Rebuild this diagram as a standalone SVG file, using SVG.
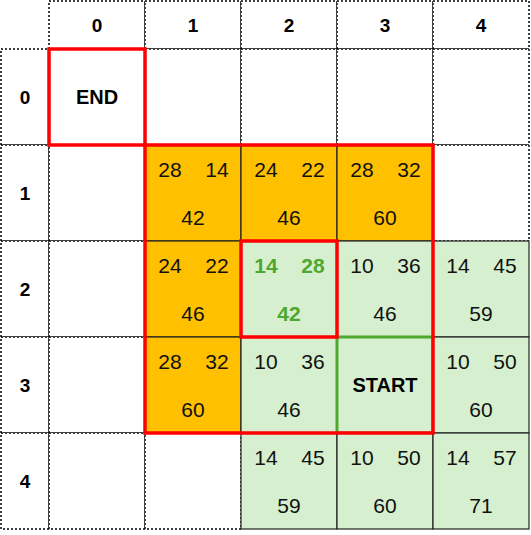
<svg xmlns="http://www.w3.org/2000/svg" width="531" height="535" viewBox="0 0 531 535">
<style>
.w{fill:#fff;stroke:#000;stroke-width:1.5;stroke-dasharray:2 2}
.o{fill:#FFC000;stroke:#222;stroke-width:1.2}
.g{fill:#D6F0CF;stroke:#222;stroke-width:1.2}
.hd{font-family:"Liberation Sans",Arial,sans-serif;font-weight:bold;font-size:19px;text-anchor:middle;fill:#000}
.n{font-family:"Liberation Sans",Arial,sans-serif;font-size:21px;text-anchor:middle;fill:#111}
.gn{font-family:"Liberation Sans",Arial,sans-serif;font-size:21px;font-weight:bold;text-anchor:middle;fill:#4EA72E}
.lb{font-family:"Liberation Sans",Arial,sans-serif;font-weight:bold;font-size:20px;text-anchor:middle;fill:#000}
.red{fill:none;stroke:#FF0000;stroke-width:3.5}
</style>
<rect width="531" height="535" fill="#fff"/>
<g id="headers">
<rect class="w" x="49" y="1" width="96" height="48"/>
<rect class="w" x="145" y="1" width="96" height="48"/>
<rect class="w" x="241" y="1" width="96" height="48"/>
<rect class="w" x="337" y="1" width="96" height="48"/>
<rect class="w" x="433" y="1" width="96" height="48"/>
<rect class="w" x="1" y="49" width="48" height="96"/>
<rect class="w" x="1" y="145" width="48" height="96"/>
<rect class="w" x="1" y="241" width="48" height="96"/>
<rect class="w" x="1" y="337" width="48" height="96"/>
<rect class="w" x="1" y="433" width="48" height="96"/>
<text class="hd" x="97" y="32">0</text>
<text class="hd" x="193" y="32">1</text>
<text class="hd" x="289" y="32">2</text>
<text class="hd" x="385" y="32">3</text>
<text class="hd" x="481" y="32">4</text>
<text class="hd" x="25" y="104">0</text>
<text class="hd" x="25" y="200">1</text>
<text class="hd" x="25" y="296">2</text>
<text class="hd" x="25" y="392">3</text>
<text class="hd" x="25" y="488">4</text>
</g>
<g id="white-cells">
<rect class="w" x="145" y="49" width="96" height="96"/>
<rect class="w" x="241" y="49" width="96" height="96"/>
<rect class="w" x="337" y="49" width="96" height="96"/>
<rect class="w" x="433" y="49" width="96" height="96"/>
<rect class="w" x="49" y="145" width="96" height="96"/>
<rect class="w" x="433" y="145" width="96" height="96"/>
<rect class="w" x="49" y="241" width="96" height="96"/>
<rect class="w" x="49" y="337" width="96" height="96"/>
<rect class="w" x="49" y="433" width="96" height="96"/>
<rect class="w" x="145" y="433" width="96" height="96"/>
</g>
<g id="end"><rect class="w" x="49" y="49" width="96" height="96"/><text class="lb" x="97" y="104" style="font-size:20px">END</text></g>
<g id="c11"><rect class="o" x="145" y="145" width="96" height="96"/><text class="n" x="170" y="177">28</text><text class="n" x="217" y="177">14</text><text class="n" x="193" y="225">42</text></g>
<g id="c12"><rect class="o" x="241" y="145" width="96" height="96"/><text class="n" x="266" y="177">24</text><text class="n" x="313" y="177">22</text><text class="n" x="289" y="225">46</text></g>
<g id="c13"><rect class="o" x="337" y="145" width="96" height="96"/><text class="n" x="362" y="177">28</text><text class="n" x="409" y="177">32</text><text class="n" x="385" y="225">60</text></g>
<g id="c21"><rect class="o" x="145" y="241" width="96" height="96"/><text class="n" x="170" y="273">24</text><text class="n" x="217" y="273">22</text><text class="n" x="193" y="321">46</text></g>
<g id="c31"><rect class="o" x="145" y="337" width="96" height="96"/><text class="n" x="170" y="369">28</text><text class="n" x="217" y="369">32</text><text class="n" x="193" y="417">60</text></g>
<g id="c22"><rect class="g" x="241" y="241" width="96" height="96"/><text class="gn" x="266" y="273">14</text><text class="gn" x="313" y="273">28</text><text class="gn" x="289" y="321">42</text></g>
<g id="c23"><rect class="g" x="337" y="241" width="96" height="96"/><text class="n" x="362" y="273">10</text><text class="n" x="409" y="273">36</text><text class="n" x="385" y="321">46</text></g>
<g id="c24"><rect class="g" x="433" y="241" width="96" height="96"/><text class="n" x="458" y="273">14</text><text class="n" x="505" y="273">45</text><text class="n" x="481" y="321">59</text></g>
<g id="c32"><rect class="g" x="241" y="337" width="96" height="96"/><text class="n" x="266" y="369">10</text><text class="n" x="313" y="369">36</text><text class="n" x="289" y="417">46</text></g>
<g id="start"><rect class="g" x="337" y="337" width="96" height="96" style="stroke:#4EA72E;stroke-width:3"/><text class="lb" x="385" y="392">START</text></g>
<g id="c34"><rect class="g" x="433" y="337" width="96" height="96"/><text class="n" x="458" y="369">10</text><text class="n" x="505" y="369">50</text><text class="n" x="481" y="417">60</text></g>
<g id="c42"><rect class="g" x="241" y="433" width="96" height="96"/><text class="n" x="266" y="465">14</text><text class="n" x="313" y="465">45</text><text class="n" x="289" y="513">59</text></g>
<g id="c43"><rect class="g" x="337" y="433" width="96" height="96"/><text class="n" x="362" y="465">10</text><text class="n" x="409" y="465">50</text><text class="n" x="385" y="513">60</text></g>
<g id="c44"><rect class="g" x="433" y="433" width="96" height="96"/><text class="n" x="458" y="465">14</text><text class="n" x="505" y="465">57</text><text class="n" x="481" y="513">71</text></g>
<g id="highlights">
<rect class="red" x="49" y="49" width="96" height="96"/>
<rect class="red" x="145" y="145" width="288" height="288"/>
<rect class="red" x="241" y="241" width="96" height="96"/>
</g>
</svg>
